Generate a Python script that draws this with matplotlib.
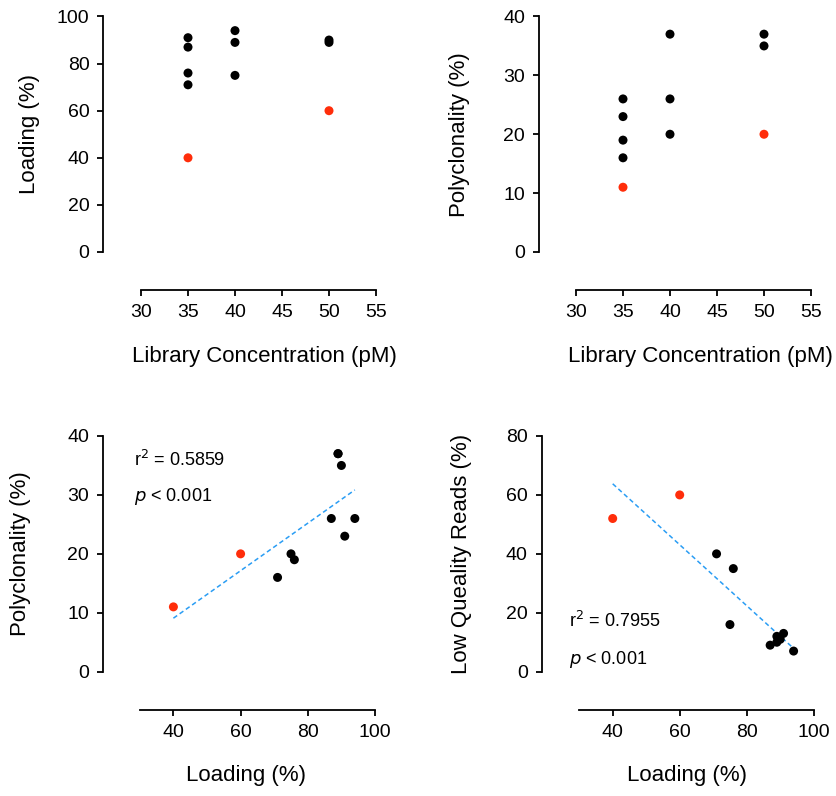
import numpy as np
import matplotlib
matplotlib.use("Agg")
import matplotlib.pyplot as plt

plt.rcParams['font.family'] = ['Liberation Sans', 'DejaVu Sans']

# ---- data ----
concentration = [35, 35, 35, 35, 35, 40, 40, 40, 50, 50, 50]
loading       = [91, 87, 76, 71, 40, 94, 89, 75, 90, 89, 60]
polyclonality = [23, 26, 19, 16, 11, 26, 37, 20, 35, 37, 20]
low_quality   = [13, 9, 35, 40, 52, 7, 10, 16, 11, 12, 60]
is_red        = [False, False, False, False, True, False, False, False, False, False, True]

conc_ticks = [30, 35, 40, 45, 50, 55]
load_ticks = [40, 60, 80, 100]
r2_poly = "0.5859"
r2_lqr = "0.7955"

BLACK = '#000000'
RED = '#FF2D0A'
BLUE = '#2A9DF4'

W, H = 836, 796
fig = plt.figure(figsize=(W / 100, H / 100), dpi=100)

TICK_FS = 14
LABEL_FS = 16
NOTE_FS = 13


def make_ax(x0, x1, ytop, ybot):
    ax = fig.add_axes([x0 / W, 1 - ybot / H, (x1 - x0) / W, (ybot - ytop) / H])
    ax._px = (x0, x1, ytop, ybot)
    return ax


def style(ax, left_px, bottom_px, xb, yb):
    for s in ['top', 'right']:
        ax.spines[s].set_visible(False)
    ax.spines['left'].set_position(('outward', left_px * 0.72))
    ax.spines['bottom'].set_position(('outward', bottom_px * 0.72))
    ax.spines['left'].set_bounds(*yb)
    ax.spines['bottom'].set_bounds(*xb)
    for s in ['left', 'bottom']:
        ax.spines[s].set_linewidth(1.3)
    ax.tick_params(width=1.3, length=4, labelsize=TICK_FS, pad=6, direction='out')
    ax.patch.set_alpha(0)


def labels(ax, xlabel, ylabel, xlab_cx, xlab_cy, ylab_cx):
    x0, x1, ytop, ybot = ax._px
    ax.set_xlabel(xlabel, fontsize=LABEL_FS)
    ax.set_ylabel(ylabel, fontsize=LABEL_FS)
    ax.xaxis.set_label_coords((xlab_cx - x0) / (x1 - x0), (ybot - xlab_cy) / (ybot - ytop))
    ax.yaxis.set_label_coords((ylab_cx - x0) / (x1 - x0), 0.5)
    ax.xaxis.label.set_va('center')
    ax.yaxis.label.set_va('center')


colors = [RED if r else BLACK for r in is_red]


def scatter(ax, x, y):
    ax.scatter(x, y, c=colors, s=42, edgecolors='none', clip_on=False, zorder=3)


# top-left
ax1 = make_ax(141, 376, 16.5, 252)
ax1.set_xlim(30, 55); ax1.set_ylim(0, 100)
scatter(ax1, concentration, loading)
ax1.set_xticks(conc_ticks); ax1.set_yticks([0, 20, 40, 60, 80, 100])
style(ax1, 37.7, 38, (30, 55), (0, 100))
labels(ax1, 'Library Concentration (pM)', 'Loading (%)', 264.5, 357, 30)

# top-right
ax2 = make_ax(576, 811, 16.5, 252)
ax2.set_xlim(30, 55); ax2.set_ylim(0, 40)
scatter(ax2, concentration, polyclonality)
ax2.set_xticks(conc_ticks); ax2.set_yticks([0, 10, 20, 30, 40])
style(ax2, 37, 38, (30, 55), (0, 40))
labels(ax2, 'Library Concentration (pM)', 'Polyclonality (%)', 700, 357, 459)

# bottom-left
ax3 = make_ax(139.8, 375, 436, 671.7)
ax3.set_xlim(30, 100); ax3.set_ylim(0, 40)
scatter(ax3, loading, polyclonality)
m, b = np.polyfit(loading, polyclonality, 1)
xs = np.array([min(loading), max(loading)])
ax3.plot(xs, m * xs + b, color=BLUE, lw=1.1, ls=(0, (3, 2)), zorder=2)
ax3.set_xticks(load_ticks); ax3.set_yticks([0, 10, 20, 30, 40])
style(ax3, 37, 38.3, (30, 100), (0, 40))
labels(ax3, 'Loading (%)', 'Polyclonality (%)', 246, 775, 21)
ax3.text(28.4, 35.9, r'r$^2$ = ' + r2_poly, fontsize=NOTE_FS, va='center', ha='left')
ax3.text(28.4, 29.7, r'$\it{p}$ < 0.001', fontsize=NOTE_FS, va='center', ha='left')

# bottom-right
ax4 = make_ax(579.2, 813.7, 436, 671.7)
ax4.set_xlim(30, 100); ax4.set_ylim(0, 80)
scatter(ax4, loading, low_quality)
m, b = np.polyfit(loading, low_quality, 1)
ax4.plot(xs, m * xs + b, color=BLUE, lw=1.1, ls=(0, (3, 2)), zorder=2)
ax4.set_xticks(load_ticks); ax4.set_yticks([0, 20, 40, 60, 80])
style(ax4, 37.5, 38.3, (30, 100), (0, 80))
labels(ax4, 'Loading (%)', 'Low Queality Reads (%)', 687, 775, 461)
ax4.text(27.0, 17.3, r'r$^2$ = ' + r2_lqr, fontsize=NOTE_FS, va='center', ha='left')
ax4.text(27.0, 4.2, r'$\it{p}$ < 0.001', fontsize=NOTE_FS, va='center', ha='left')

fig.savefig('out.png', dpi=100)
